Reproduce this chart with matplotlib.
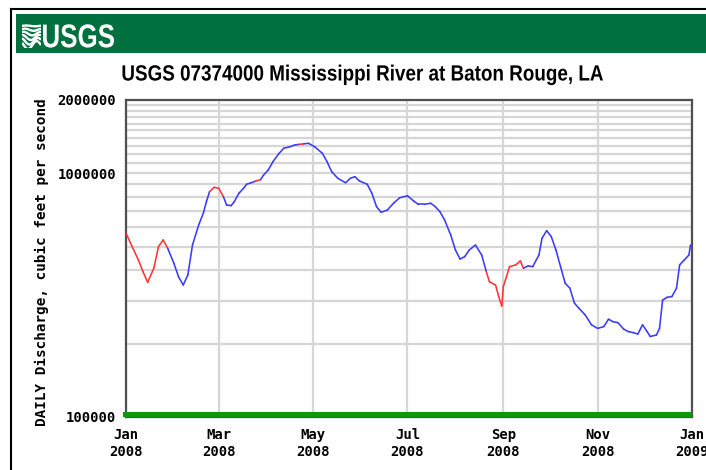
import matplotlib
matplotlib.use("Agg")
import matplotlib.pyplot as plt
import matplotlib.dates as mdates
import numpy as np
from matplotlib.collections import LineCollection
from matplotlib.patches import Rectangle, PathPatch
from matplotlib.textpath import TextPath
from matplotlib.font_manager import FontProperties
from matplotlib.transforms import Affine2D
from matplotlib.ticker import FixedLocator, NullFormatter

# daily discharge (cfs)
dates = ["2008-01-01", "2008-01-05", "2008-01-09", "2008-01-12", "2008-01-15", "2008-01-19",
         "2008-01-22", "2008-01-25", "2008-01-28", "2008-02-01", "2008-02-04", "2008-02-07",
         "2008-02-10", "2008-02-13", "2008-02-17", "2008-02-20", "2008-02-22", "2008-02-24",
         "2008-02-27", "2008-03-01", "2008-03-04", "2008-03-06", "2008-03-09", "2008-03-11",
         "2008-03-14", "2008-03-17", "2008-03-19", "2008-03-22", "2008-03-25", "2008-03-28",
         "2008-03-30", "2008-04-02", "2008-04-05", "2008-04-09", "2008-04-12", "2008-04-16",
         "2008-04-19", "2008-04-22", "2008-04-24", "2008-04-25", "2008-04-28", "2008-05-02",
         "2008-05-07", "2008-05-10", "2008-05-13", "2008-05-17", "2008-05-22", "2008-05-25",
         "2008-05-28", "2008-05-31", "2008-06-05", "2008-06-08", "2008-06-11", "2008-06-14",
         "2008-06-18", "2008-06-22", "2008-06-26", "2008-07-01", "2008-07-05", "2008-07-08",
         "2008-07-12", "2008-07-16", "2008-07-19", "2008-07-22", "2008-07-25", "2008-07-29",
         "2008-08-01", "2008-08-04", "2008-08-07", "2008-08-10", "2008-08-14", "2008-08-18",
         "2008-08-21", "2008-08-23", "2008-08-27", "2008-08-29", "2008-08-31", "2008-09-01",
         "2008-09-03", "2008-09-05", "2008-09-09", "2008-09-12", "2008-09-14", "2008-09-17",
         "2008-09-20", "2008-09-24", "2008-09-26", "2008-09-29", "2008-10-02", "2008-10-05",
         "2008-10-08", "2008-10-11", "2008-10-14", "2008-10-17", "2008-10-20", "2008-10-24",
         "2008-10-28", "2008-11-01", "2008-11-05", "2008-11-08", "2008-11-11", "2008-11-14",
         "2008-11-18", "2008-11-21", "2008-11-24", "2008-11-27", "2008-11-30", "2008-12-03",
         "2008-12-05", "2008-12-09", "2008-12-11", "2008-12-13", "2008-12-16", "2008-12-19",
         "2008-12-22", "2008-12-24", "2008-12-27", "2008-12-30", "2008-12-31"]
discharge = [568000, 500000, 441000, 395000, 357000, 408000,
             500000, 533000, 492000, 427000, 376000, 348000,
             383000, 508000, 614000, 686000, 765000, 841000,
             876000, 868000, 802000, 742000, 737000, 765000,
             828000, 868000, 902000, 915000, 930000, 942000,
             985000, 1032000, 1116000, 1208000, 1267000, 1286000,
             1307000, 1315000, 1319000, 1322000, 1328000, 1286000,
             1208000, 1116000, 1016000, 954000, 915000, 954000,
             969000, 930000, 902000, 828000, 730000, 692000,
             707000, 754000, 794000, 809000, 770000, 746000,
             746000, 754000, 730000, 696000, 644000, 558000,
             485000, 445000, 455000, 485000, 508000, 462000,
             395000, 359000, 348000, 312000, 285000, 343000,
             376000, 414000, 421000, 437000, 408000, 417000,
             414000, 462000, 541000, 582000, 550000, 485000,
             414000, 354000, 338000, 293000, 279000, 262000,
             239000, 231000, 235000, 252000, 246000, 244000,
             229000, 224000, 222000, 219000, 239000, 224000,
             214000, 217000, 231000, 302000, 310000, 312000,
             338000, 421000, 441000, 462000, 508000]

# periods drawn in red on the original
red_periods = [("2008-01-01", "2008-01-28"), ("2008-02-25", "2008-03-04"),
               ("2008-03-24", "2008-03-28"), ("2008-04-22", "2008-04-25"),
               ("2008-08-22", "2008-09-14")]

tick_dates = ["2008-01-01", "2008-03-01", "2008-05-01", "2008-07-01",
              "2008-09-01", "2008-11-01", "2009-01-01"]
tick_labels = ["Jan\n2008", "Mar\n2008", "May\n2008", "Jul\n2008",
               "Sep\n2008", "Nov\n2008", "Jan\n2009"]

MONO = ["DejaVu Sans Mono"]
BLUE = "#3b3bff"
RED = "#ff3535"
GRID = "#d6d6d6"
W, H = 706, 470

fig = plt.figure(figsize=(W / 100, H / 100), dpi=100)


def narrow_text(s, left, right, baseline, em, color, zorder=5):
    # no condensed font installed, so squeeze a bold path to the measured width
    tp = TextPath((0, 0), s, size=em, prop=FontProperties(family="Liberation Sans", weight="bold"))
    ext = tp.get_extents()
    sx = (right - left) / ext.width
    tr = (Affine2D().translate(-ext.x0, 0).scale(sx, 1).translate(left, H - baseline)
          .scale(1 / 100) + fig.dpi_scale_trans)
    fig.add_artist(PathPatch(tp, transform=tr, facecolor=color, edgecolor="none", zorder=zorder))


# outer frame + green banner
fig.add_artist(plt.Line2D([10.5 / W, 1], [1 - 8.5 / H, 1 - 8.5 / H], color="black", lw=1.5))
fig.add_artist(plt.Line2D([10.5 / W, 10.5 / W], [0, 1 - 8.5 / H], color="black", lw=1.5))
fig.add_artist(Rectangle((16 / W, 1 - 53 / H), 1, 39 / H, transform=fig.transFigure,
                         facecolor="#00703f", edgecolor="none", zorder=1))

# logo waves
logo = fig.add_axes([22 / W, 1 - 47.5 / H, 19 / W, 24 / H])
logo.set_zorder(6)
logo.patch.set_visible(False)
logo.set_xlim(0, 1)
logo.set_ylim(0, 1)
logo.axis("off")
xx = np.linspace(0, 1, 40)
for k, y0 in enumerate([0.90, 0.74, 0.58, 0.42, 0.26, 0.10]):
    amp = 0.015 + 0.03 * k
    logo.plot(xx, y0 + amp * np.sin(2 * np.pi * (xx * 1.1 + 0.08 * k)), color="white", lw=1.7,
              solid_capstyle="butt")
narrow_text("USGS", 43, 114, 47.3, 33, "white", zorder=6)

narrow_text("USGS 07374000 Mississippi River at Baton Rouge, LA", 122.5, 603, 80.5, 22, "black")

ax = fig.add_axes([126 / W, 1 - 417 / H, 566 / W, 317 / H])
dt = np.array(dates, dtype="datetime64[D]")
x = mdates.date2num(dt)
y = np.array(discharge, dtype=float)

periods = [(mdates.date2num(np.datetime64(a)), mdates.date2num(np.datetime64(b)))
           for a, b in red_periods]
segs, cols = [], []
for i in range(len(x) - 1):
    mid = (x[i] + x[i + 1]) / 2
    red = any(a <= mid <= b for a, b in periods)
    segs.append([(x[i], y[i]), (x[i + 1], y[i + 1])])
    cols.append(RED if red else BLUE)
ax.add_collection(LineCollection(segs, colors=cols, linewidths=1.15, zorder=3,
                                 capstyle="round", joinstyle="round"))

ax.set_yscale("log")
ax.set_ylim(100000, 2000000)
ax.set_xlim(mdates.date2num(np.datetime64("2008-01-01")),
            mdates.date2num(np.datetime64("2009-01-01")))

ax.yaxis.set_major_locator(FixedLocator([100000, 1000000, 2000000]))
ax.yaxis.set_minor_locator(FixedLocator([v * 100000 for v in range(2, 20) if v != 10]))
ax.yaxis.set_minor_formatter(NullFormatter())
ax.set_yticklabels(["100000", "1000000", "2000000"], family=MONO, fontsize=10,
                   fontweight="bold")
ax.set_xticks(mdates.date2num(np.array(tick_dates, dtype="datetime64[D]")))
ax.set_xticklabels(tick_labels, family=MONO, fontsize=10, fontweight="bold",
                   linespacing=1.25)
ax.tick_params(which="both", length=0)
ax.tick_params(axis="y", pad=7)
ax.tick_params(axis="x", pad=8)

ax.grid(True, which="both", axis="y", color=GRID, lw=1.6, zorder=0)
ax.grid(True, which="major", axis="x", color=GRID, lw=1.6, zorder=0)
ax.set_axisbelow(True)
for s in ax.spines.values():
    s.set_color("#505050")
    s.set_linewidth(1.6)

# green bar along the bottom
ax.add_patch(Rectangle((-0.006, 0), 1.006, 5 / 317, transform=ax.transAxes,
                       facecolor="#0a9a0a", edgecolor="none", zorder=4, clip_on=False))

fig.text(42 / W, 1 - 262 / H, "DAILY Discharge, cubic feet per second", rotation=90,
         family=MONO, fontsize=10.3, fontweight="bold", ha="center", va="center")

fig.savefig("out.png", dpi=100)
